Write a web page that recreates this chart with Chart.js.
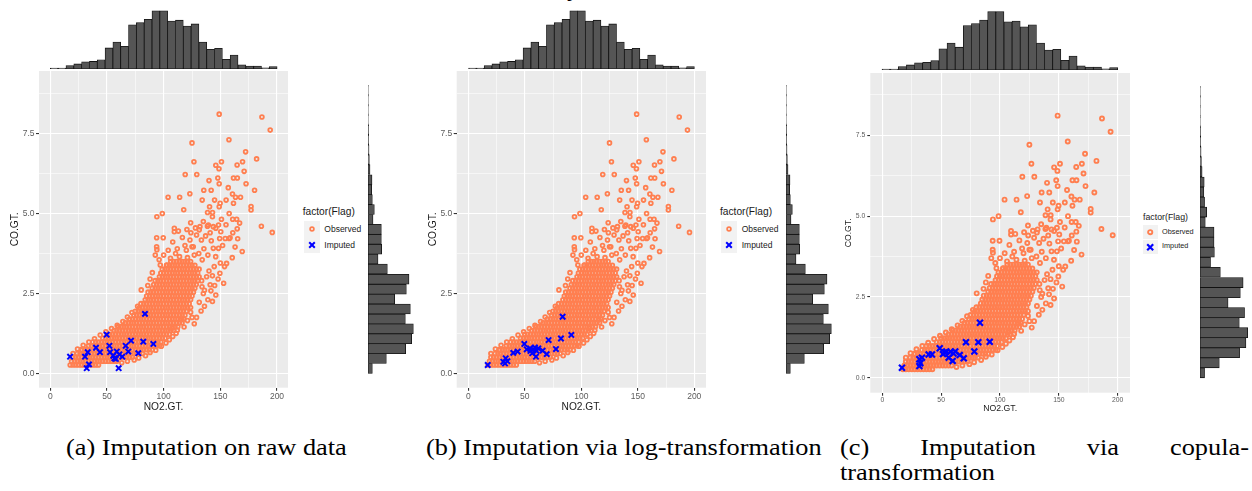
<!DOCTYPE html>
<html>
<head>
<meta charset="utf-8">
<script src="https://cdn.jsdelivr.net/npm/chart.js@4.4.1/dist/chart.umd.min.js"></script>
<style>
html,body{margin:0;padding:0;background:#ffffff;}
#fig{position:relative;width:1252px;height:491px;overflow:hidden;font-family:"Liberation Sans",Arial,sans-serif;}
#fig canvas{position:absolute;}
.leg{position:absolute;color:#1a1a1a;white-space:nowrap;}
.key{position:absolute;background:#F2F2F2;}
.cap{position:absolute;font-family:"Liberation Serif","Times New Roman",serif;font-size:23px;line-height:24.7px;color:#000;transform-origin:0 0;transform:scaleX(1.145);white-space:nowrap;}
.capj{white-space:normal;text-align:justify;text-align-last:justify;}
</style>
</head>
<body>
<div id="fig"></div>
<script>
// ---------------- DATA ----------------
const xTicks = [0, 50, 100, 150, 200];
const xTickLabels = ['0', '50', '100', '150', '200'];
const xMinor = [25, 75, 125, 175];
const yTicks = [0, 2.5, 5, 7.5];
const yTickLabels = ['0.0', '2.5', '5.0', '7.5'];
const yMinor = [1.25, 3.75, 6.25, 8.75];
const xTitle = 'NO2.GT.';
const yTitle = 'CO.GT.';
const legendTitle = 'factor(Flag)';
const flagLabels = ['Observed', 'Imputed'];
const captionA = ['(a) Imputation on raw data'];
const captionB = ['(b) Imputation via log-transformation'];
const captionC = ['(c) Imputation via copula-', 'transformation'];

// marginal histogram of NO2.GT. (bin centres, counts)
const no2BinCenters = [3.45,10.35,17.25,24.15,31.05,37.95,44.85,51.75,58.65,65.55,72.45,79.35,86.25,93.15,100.05,106.95,113.85,120.75,127.65,134.55,141.45,148.35,155.25,162.15,169.05,175.95,182.85,189.75,196.65];
const no2Counts = [2,2,8,12,17,18,22,50,64,54,105,110,118,138,138,114,116,102,107,64,47,49,23,33,10,7,7,3,6];
// marginal histogram of CO.GT. (bin centres, counts)
const coBinCenters = [0.16,0.47,0.78,1.09,1.40,1.71,2.02,2.33,2.64,2.95,3.27,3.58,3.89,4.20,4.51,4.82,5.13,5.44,5.75,6.06,6.38,6.69,7.00,7.31,7.62,7.93,8.24,8.55,8.86];
const coCounts = [13,55,113,131,136,112,127,80,115,123,58,30,41,40,40,15,19,13,11,12,6,4,3,2,2,1,1,1,1];

// observed points in the dense core, read row by row: [CO.GT., [NO2.GT. values]]
const observedRows = [
 [0.26,[17.5,20,22.5,25,27.5,30,32.5,35,37.5,40,42.5]],
 [0.38,[18.75,21.25,23.75,26.25,28.75,31.25,33.75,36.25,38.75,41.25,43.75,46.25,48.75,51.25,53.75,56.25,58.75]],
 [0.50,[20,22.5,25,27.5,30,32.5,35,37.5,40,42.5,45,47.5,50,52.5,55,57.5,60,62.5,65,67.5,70,72.5]],
 [0.62,[23.75,26.25,28.75,31.25,33.75,36.25,38.75,41.25,43.75,46.25,48.75,51.25,53.75,56.25,58.75,61.25,63.75,66.25,68.75,71.25,73.75,76.25,78.75,81.25]],
 [0.74,[27.5,30,32.5,35,37.5,40,42.5,45,47.5,50,52.5,55,57.5,60,62.5,65,67.5,70,72.5,75,77.5,80,82.5,85,87.5,90]],
 [0.86,[33.75,36.25,38.75,41.25,43.75,46.25,48.75,51.25,53.75,56.25,58.75,61.25,63.75,66.25,68.75,71.25,73.75,76.25,78.75,81.25,83.75,86.25,88.75,91.25,93.75,96.25]],
 [0.98,[37.5,40,42.5,45,47.5,50,52.5,55,57.5,60,62.5,65,67.5,70,72.5,75,77.5,80,82.5,85,87.5,90,92.5,95,97.5]],
 [1.10,[46.25,48.75,51.25,53.75,56.25,58.75,61.25,63.75,66.25,68.75,71.25,73.75,76.25,78.75,81.25,83.75,86.25,88.75,91.25,93.75,96.25,98.75,101.25]],
 [1.22,[50,52.5,55,57.5,60,62.5,65,67.5,70,72.5,75,77.5,80,82.5,85,87.5,90,92.5,95,97.5,100,102.5,105]],
 [1.34,[56.25,58.75,61.25,63.75,66.25,68.75,71.25,73.75,76.25,78.75,81.25,83.75,86.25,88.75,91.25,93.75,96.25,98.75,101.25,103.75,106.25,108.75]],
 [1.46,[60,62.5,65,67.5,70,72.5,75,77.5,80,82.5,85,87.5,90,92.5,95,97.5,100,102.5,105,107.5,110,112.5]],
 [1.58,[66.25,68.75,71.25,73.75,76.25,78.75,81.25,83.75,86.25,88.75,91.25,93.75,96.25,98.75,101.25,103.75,106.25,108.75,111.25,113.75,116.25]],
 [1.70,[70,72.5,75,77.5,80,82.5,85,87.5,90,92.5,95,97.5,100,102.5,105,107.5,110,112.5,115,117.5]],
 [1.82,[73.75,76.25,78.75,81.25,83.75,86.25,88.75,91.25,93.75,96.25,98.75,101.25,103.75,106.25,108.75,111.25,113.75,116.25,118.75]],
 [1.94,[75,77.5,80,82.5,85,87.5,90,92.5,95,97.5,100,102.5,105,107.5,110,112.5,115,117.5,120]],
 [2.06,[78.75,81.25,83.75,86.25,88.75,91.25,93.75,96.25,98.75,101.25,103.75,106.25,108.75,111.25,113.75,116.25,118.75,121.25,123.75]],
 [2.18,[80,82.5,85,87.5,90,92.5,95,97.5,100,102.5,105,107.5,110,112.5,115,117.5,120,122.5]],
 [2.30,[83.75,86.25,88.75,91.25,93.75,96.25,98.75,101.25,103.75,106.25,108.75,111.25,113.75,116.25,118.75,121.25,123.75]],
 [2.42,[85,87.5,90,92.5,95,97.5,100,102.5,105,107.5,110,112.5,115,117.5,120,122.5,125]],
 [2.54,[86.25,88.75,91.25,93.75,96.25,98.75,101.25,103.75,106.25,108.75,111.25,113.75,116.25,118.75,121.25,123.75,126.25]],
 [2.66,[90,92.5,95,97.5,100,102.5,105,107.5,110,112.5,115,117.5,120,122.5,125,127.5]],
 [2.78,[91.25,93.75,96.25,98.75,101.25,103.75,106.25,108.75,111.25,113.75,116.25,118.75,121.25,123.75,126.25,128.75]],
 [2.90,[92.5,95,97.5,100,102.5,105,107.5,110,112.5,115,117.5,120,122.5,125,127.5,130]],
 [3.02,[96.25,98.75,101.25,103.75,106.25,108.75,111.25,113.75,116.25,118.75,121.25,123.75,126.25,128.75,131.25]],
 [3.14,[97.5,100,102.5,105,107.5,110,112.5,115,117.5,120,122.5,125,127.5,130]],
 [3.26,[98.75,101.25,103.75,106.25,108.75,111.25,113.75,116.25,118.75,121.25,123.75,126.25,128.75,131.25]],
 [3.38,[102.5,105,107.5,110,112.5,115,117.5,120,122.5,125,127.5]],
 [3.50,[106.25,108.75,111.25,113.75,116.25,118.75,121.25,123.75]]
];
// observed points outside the dense core: [NO2.GT., CO.GT.]
const observedScattered = [
 [149,8.11],[186.7,8.02],[194,7.61],[125,7.21],[157.6,7.31],[172.3,6.93],[182,6.71],[126.7,6.62],[151,6.62],[146,6.51],
 [169.6,6.62],[164.8,6.52],[148.8,6.4],[171,6.32],[119,6.22],[129.2,6.22],[147.8,6.11],[161.6,6.11],[165,6.11],[140,6.03],
 [149,5.93],[172.7,5.93],[157,5.81],[135.4,5.73],[141.9,5.73],[180.2,5.73],[123.1,5.62],[160.7,5.61],[103.9,5.51],[114.1,5.51],
 [163.4,5.51],[167.8,5.51],[134,5.42],[144.9,5.42],[155.1,5.42],[149.8,5.32],[161.6,5.32],[140.5,5.21],[149,5.21],[177.1,5.22],
 [177.1,5.11],[117.7,5.12],[138.7,5.03],[143.1,5.03],[94,4.9],[98.8,5.0],[157.8,5.0],[143,4.9],[151,4.82],[160.9,4.82],
 [164.4,4.82],[123.8,4.71],[186.2,4.6],[195.8,4.41],
 [109.4,4.54],[109.4,4.43],[93.8,4.24],[99.6,4.24],[108,4.11],[93.8,3.96],[94,3.87],[92.6,3.7],[97,3.39],[102.9,3.39],
 [116.5,4.25],[118.8,4.0],[120,3.85],[123.2,4.17],[126.1,3.96],[129,4.33],[131.4,4.49],[133.3,4.17],[135.5,3.9],[137,4.3],
 [138.6,4.6],[141,4.4],[146,4.54],[148.4,4.64],[150.4,4.43],[154.3,4.22],[157.8,4.22],[149.4,4.22],[143.8,3.91],[148.4,3.91],
 [145.9,3.65],[144.6,3.34],[149.6,3.13],[153.7,3.34],[160.5,3.62],[169.3,3.81],[155.5,3.44],[165.3,4.21],[164.9,4.52],[158.6,4.24],
 [112,3.9],[114,3.65],[121,3.62],[127,3.7],[131,3.75],[134,3.55],[139,3.7],[128,4.55],[124,4.4],[120.5,4.5],
 [110.5,3.75],[106,3.6],[113,4.45],[135,4.75],[142,4.15],[152,4.0],[161,4.4],[155,4.65],[167,4.7],[163,3.95],
 [132,4.59],[143.8,4.59],[139.4,4.64],[125,3.96],
 [133.5,2.9],[136,2.6],[137.9,3.02],[140,3.2],[133.8,2.71],[141,2.77],[135,2.5],[139,2.3],[136,2.1],[133,1.95],
 [131.4,2.22],[141.7,2.58],[145,2.75],[148,2.95],[152.9,2.82],[150,3.45],[143,3.05],[146,2.45],[129,1.75],[127,1.55],
 [123.8,1.91],[143,2.25],
 [98,0.85],[102,0.95],[105,1.05],[108,1.15],[107.3,1.41],[111,1.25],[115.9,1.67],[118,1.45],[121,1.65],[125,1.75],
 [93,0.72],[88,0.65],[84,0.55],[78,0.48],[74,0.42],[68,0.38],[63,0.33],[112,1.35],
 [80.2,2.61],[77,2.1],[72,1.9],[68,1.76],[64,1.62],[59,1.5],[54,1.4],[49,1.3],[44,1.2],[39,1.08],
 [34,0.98],[29,0.88],[24,0.76],[20,0.62],[86,2.75],[88,2.95],[90,3.15],[96,3.55],[100,3.7],[104,3.85],[27.7,0.73]
];
// imputed points: [NO2.GT., CO.GT.]
const imputedRaw = [
 [17.4,0.52],[30.6,0.52],[33,0.66],[32.1,0.16],[34.1,0.28],[40.3,0.8],[43.8,0.66],[49.7,1.21],[52.1,0.86],[52.7,0.66],
 [56.5,0.47],[58.6,0.68],[60.9,0.59],[60.3,0.16],[57.8,0.45],[63.5,0.52],[66.5,0.86],[68.8,0.68],[71.2,1.02],[77.6,0.63],
 [82,0.99],[83.5,1.86],[90.9,0.92],[55.5,0.55]
];
const imputedLog = [
 [17.2,0.26],[31,0.36],[33.1,0.47],[32.5,0.31],[34.6,0.38],[39.8,0.64],[43.7,0.68],[49.6,0.92],[51.7,0.75],[54.6,0.78],
 [57.5,0.75],[59,0.81],[56.6,0.63],[59.9,0.52],[62,0.78],[65.8,0.71],[69.4,0.6],[71.1,1.04],[77.6,0.76],[82,1.09],
 [83.5,1.77],[91.2,1.2],[60.5,0.7],[55,0.7]
];
const imputedCopula = [
 [16.7,0.31],[31.5,0.57],[32.3,0.45],[31.5,0.36],[33.7,0.62],[39.4,0.72],[42.2,0.72],[48.8,0.91],[51.6,0.73],[54.4,0.81],
 [56.4,0.62],[57.8,0.8],[59.8,0.52],[62,0.81],[65.8,0.7],[69.2,0.6],[71.1,1.1],[78.2,0.81],[81.6,1.1],[83,1.7],
 [91.3,1.11],[53,0.78],[60.5,0.75]
];

// ---------------- STYLE / LAYOUT ----------------
const SANS = '"Liberation Sans", Arial, sans-serif';
const CORAL = '#FF7F50';
const BLUE = '#0000FF';
const PANEL_BG = '#EBEBEB';
const TICK_COL = '#5c5c5c';
const TITLE_COL = '#1a1a1a';
const HIST_FILL = '#555555';
const HIST_LINE = '#111111';

const panels = [
 {imputed: imputedRaw, caption: captionA, capPos:{l:66, t:436.4, w:0},
  scatter:{l:0,t:71,w:288,h:349,axisW:39,axisH:32.3}, x:[-10,209.7], y:[-0.45,9.46],
  topHist:{l:39,t:9,w:249,h:60}, topMax:142.5, rightHist:{l:368,t:71,w:50,h:317}, rightMax:150,
  tickFont:8.5, titleFont:10.2, tickPadX:1, tickPadY:1.5, xTitlePad:6.9, yTitlePad:9.5,
  pt:{r:1.9,bw:1.8,xr:3.8,xbw:2},
  legend:{l:302.7,titleY:212.3,titleFont:10.2,key:16,keyL:303.7,keyT:221.3,labelL:324.3,labelFont:8.5,r:1.9,bw:1.7,xs:2.8,xbw:2}},
 {imputed: imputedLog, caption: captionB, capPos:{l:426, t:436.4, w:0},
  scatter:{l:418,t:71,w:288,h:349,axisW:38.7,axisH:32.3}, x:[-10.27,210.4], y:[-0.45,9.46],
  topHist:{l:457,t:9,w:249,h:60}, topMax:142.5, rightHist:{l:786,t:71,w:50,h:317}, rightMax:150,
  tickFont:8.5, titleFont:10.2, tickPadX:1, tickPadY:1.5, xTitlePad:6.9, yTitlePad:9.5,
  pt:{r:1.9,bw:1.8,xr:3.8,xbw:2},
  legend:{l:720,titleY:212.3,titleFont:10.2,key:16,keyL:721,keyT:221.3,labelL:741.7,labelFont:8.5,r:1.9,bw:1.7,xs:2.8,xbw:2}},
 {imputed: imputedCopula, caption: captionC, capPos:{l:840, t:436.4, w:357.2},
  scatter:{l:830,t:73,w:300,h:347,axisW:40.3,axisH:27.3}, x:[-10.2,210.5], y:[-0.464,9.43],
  topHist:{l:870,t:10,w:260,h:60}, topMax:142, rightHist:{l:1200,t:73,w:52,h:320}, rightMax:148.3,
  tickFont:6.8, titleFont:8.7, tickPadX:0, tickPadY:2, xTitlePad:6.5, yTitlePad:13.5,
  pt:{r:2,bw:1.9,xr:4.2,xbw:2.2},
  legend:{l:1143,titleY:217,titleFont:8.8,key:14.4,keyL:1143.3,keyT:225.1,labelL:1162,labelFont:7.3,r:2.1,bw:1.9,xs:3,xbw:2.2}}
];

const fig = document.getElementById('fig');
const observedPoints = [];
observedRows.forEach(r => r[1].forEach(x => observedPoints.push({x: x, y: r[0]})));
observedScattered.forEach(p => observedPoints.push({x: p[0], y: p[1]}));

const panelBg = {
  id: 'panelBg',
  beforeDraw(chart, args, opts) {
    if (!opts || !opts.color) return;
    const a = chart.chartArea, ctx = chart.ctx;
    ctx.save(); ctx.fillStyle = opts.color;
    ctx.fillRect(a.left, a.top, a.right - a.left, a.bottom - a.top);
    ctx.restore();
  }
};

function mkCanvas(l, t, w, h) {
  const c = document.createElement('canvas');
  c.width = Math.round(w); c.height = Math.round(h);
  c.style.left = l + 'px'; c.style.top = t + 'px';
  c.style.width = Math.round(w) + 'px'; c.style.height = Math.round(h) + 'px';
  fig.appendChild(c);
  return c;
}
const baseOpts = () => ({
  responsive: false, animation: false, devicePixelRatio: 1, events: [],
  layout: {padding: 0, autoPadding: false},
  plugins: {legend: {display: false}, tooltip: {enabled: false}}
});

function scatterChart(P) {
  const S = P.scatter;
  const cv = mkCanvas(S.l, S.t, S.w, S.h);
  const xAll = xTicks.concat(xMinor).sort((a, b) => a - b);
  const yAll = yTicks.concat(yMinor).sort((a, b) => a - b);
  const opts = baseOpts();
  opts.plugins.panelBg = {color: PANEL_BG};
  const tv = c => (c.tick ? c.tick.value : NaN);
  opts.scales = {
    x: {
      type: 'linear', position: 'bottom', min: P.x[0], max: P.x[1], offset: false,
      afterBuildTicks: s => { s.ticks = xAll.map(v => ({value: v})); },
      afterFit: s => { s.height = S.axisH; s.paddingLeft = 0; s.paddingRight = 0; },
      ticks: {autoSkip: false, maxRotation: 0, padding: P.tickPadX, color: TICK_COL,
        font: {family: SANS, size: P.tickFont},
        callback: v => { const i = xTicks.indexOf(v); return i < 0 ? '' : xTickLabels[i]; }},
      grid: {color: '#FFFFFF', lineWidth: c => xTicks.includes(tv(c)) ? 1.1 : 0.55, tickLength: 3,
        tickColor: c => xTicks.includes(tv(c)) ? '#333333' : 'rgba(0,0,0,0)'},
      border: {display: false},
      title: {display: true, text: xTitle, color: TITLE_COL, font: {family: SANS, size: P.titleFont},
        padding: {top: 0, bottom: P.xTitlePad}}
    },
    y: {
      type: 'linear', position: 'left', min: P.y[0], max: P.y[1], offset: false,
      afterBuildTicks: s => { s.ticks = yAll.map(v => ({value: v})); },
      afterFit: s => { s.width = S.axisW; s.paddingTop = 0; s.paddingBottom = 0; },
      ticks: {autoSkip: false, padding: P.tickPadY, color: TICK_COL,
        font: {family: SANS, size: P.tickFont},
        callback: v => { const i = yTicks.indexOf(v); return i < 0 ? '' : yTickLabels[i]; }},
      grid: {color: '#FFFFFF', lineWidth: c => yTicks.includes(tv(c)) ? 1.1 : 0.55, tickLength: 3,
        tickColor: c => yTicks.includes(tv(c)) ? '#333333' : 'rgba(0,0,0,0)'},
      border: {display: false},
      title: {display: true, text: yTitle, color: TITLE_COL, font: {family: SANS, size: P.titleFont},
        padding: {top: P.yTitlePad, bottom: 0}}
    }
  };
  new Chart(cv, {
    type: 'scatter',
    data: {datasets: [
      {label: flagLabels[1], data: P.imputed.map(p => ({x: p[0], y: p[1]})),
       pointStyle: 'crossRot', pointRadius: P.pt.xr, pointBorderWidth: P.pt.xbw,
       pointBorderColor: BLUE, pointBackgroundColor: BLUE},
      {label: flagLabels[0], data: observedPoints,
       pointStyle: 'circle', pointRadius: P.pt.r, pointBorderWidth: P.pt.bw,
       pointBorderColor: CORAL, pointBackgroundColor: 'rgba(0,0,0,0)'}
    ]},
    options: opts,
    plugins: [panelBg]
  });
}

function topHistChart(P) {
  const H = P.topHist;
  const cv = mkCanvas(H.l, H.t, H.w, H.h);
  const opts = baseOpts();
  opts.scales = {
    x: {type: 'linear', display: false, min: P.x[0], max: P.x[1], offset: false},
    y: {type: 'linear', display: false, min: 0, max: P.topMax}
  };
  new Chart(cv, {
    type: 'bar',
    data: {datasets: [{data: no2BinCenters.map((c, i) => ({x: c, y: no2Counts[i]})),
      backgroundColor: HIST_FILL, borderColor: HIST_LINE, borderWidth: 0.8, borderSkipped: false,
      barPercentage: 1, categoryPercentage: 1}]},
    options: opts
  });
}

function rightHistChart(P) {
  const H = P.rightHist;
  const cv = mkCanvas(H.l, H.t, H.w, H.h);
  const opts = baseOpts();
  opts.indexAxis = 'y';
  opts.scales = {
    x: {type: 'linear', display: false, min: 0, max: P.rightMax},
    y: {type: 'linear', display: false, min: P.y[0], max: P.y[1], offset: false}
  };
  new Chart(cv, {
    type: 'bar',
    data: {datasets: [{data: coBinCenters.map((c, i) => ({x: coCounts[i], y: c})),
      backgroundColor: HIST_FILL, borderColor: HIST_LINE, borderWidth: 0.8, borderSkipped: false,
      barPercentage: 1, categoryPercentage: 1}]},
    options: opts
  });
}

function legend(P) {
  const L = P.legend;
  const t = document.createElement('div');
  t.className = 'leg'; t.textContent = legendTitle;
  t.style.left = L.l + 'px'; t.style.top = (L.titleY - L.titleFont * 0.6) + 'px';
  t.style.fontSize = L.titleFont + 'px'; t.style.lineHeight = (L.titleFont * 1.2) + 'px';
  fig.appendChild(t);
  flagLabels.forEach((lab, i) => {
    const k = document.createElement('div');
    k.className = 'key';
    const top = L.keyT + i * L.key;
    k.style.left = L.keyL + 'px'; k.style.top = top + 'px';
    k.style.width = L.key + 'px'; k.style.height = L.key + 'px';
    const c = L.key / 2;
    k.innerHTML = i === 0
      ? `<svg width="${L.key}" height="${L.key}" style="display:block"><circle cx="${c}" cy="${c}" r="${L.r}" fill="none" stroke="${CORAL}" stroke-width="${L.bw}"/></svg>`
      : `<svg width="${L.key}" height="${L.key}" style="display:block"><path d="M${c-L.xs} ${c-L.xs}L${c+L.xs} ${c+L.xs}M${c-L.xs} ${c+L.xs}L${c+L.xs} ${c-L.xs}" stroke="${BLUE}" stroke-width="${L.xbw}"/></svg>`;
    fig.appendChild(k);
    const d = document.createElement('div');
    d.className = 'leg'; d.textContent = lab;
    d.style.left = L.labelL + 'px'; d.style.top = (top + c - L.labelFont * 0.6) + 'px';
    d.style.fontSize = L.labelFont + 'px'; d.style.lineHeight = (L.labelFont * 1.2) + 'px';
    fig.appendChild(d);
  });
}

function caption(P) {
  const d = document.createElement('div');
  d.className = 'cap' + (P.capPos.w ? ' capj' : '');
  d.style.left = P.capPos.l + 'px'; d.style.top = P.capPos.t + 'px';
  if (P.capPos.w) d.style.width = P.capPos.w + 'px';
  P.caption.forEach((line, i) => {
    if (i > 0) d.appendChild(document.createElement('br'));
    d.appendChild(document.createTextNode(line));
  });
  fig.appendChild(d);
}

// clipped descender of a text line above the figure
const topFragment = document.createElement('div');
topFragment.className = 'cap';
topFragment.style.left = '567px'; topFragment.style.top = '-23px';
topFragment.textContent = 'y';
fig.appendChild(topFragment);

panels.forEach(P => {
  scatterChart(P);
  topHistChart(P);
  rightHistChart(P);
  legend(P);
  caption(P);
});
</script>
</body>
</html>
